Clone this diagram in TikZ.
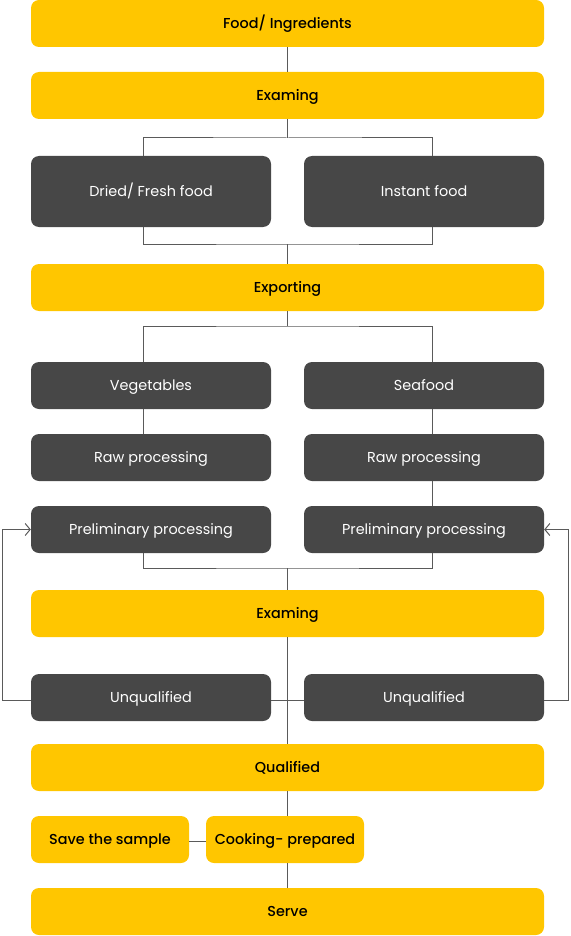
\documentclass[tikz,border=0pt]{standalone}
\usepackage{fontspec}
\setmainfont{Poppins}[BoldFont={Poppins Medium}]
\usetikzlibrary{positioning,arrows.meta,calc}
\definecolor{yel}{HTML}{FFC600}
\definecolor{dk}{HTML}{474747}
\definecolor{ln}{HTML}{5A5A5A}
\tikzset{
  ybox/.style={rectangle,rounded corners=8pt,fill=yel,text=black,font=\fontsize{14.4}{16}\selectfont\bfseries,
    minimum width=513pt,minimum height=47pt,inner sep=0pt,text height=2.4ex,text depth=.4ex},
  dbox/.style={rectangle,rounded corners=8pt,fill=dk,text=white,font=\fontsize{14.4}{16}\selectfont,
    minimum width=240pt,minimum height=47pt,inner sep=0pt,text height=2.4ex,text depth=.4ex},
  sbox/.style={ybox,minimum width=158pt},
  conn/.style={draw=ln,line width=1pt},
  back/.style={conn,-{Straight Barb[length=5pt,width=12pt,line width=1pt]}},
}
\begin{document}
\begin{tikzpicture}[x=1pt,y=-1pt]
  \useasboundingbox (0,0) rectangle (570,936);
  % main column
  \node[ybox] (food) at (287.5,23.5) {Food/ Ingredients};
  \node[ybox] (ex1) at (287.5,95.5) {Examing};
  \node[dbox,minimum height=71pt] (dried) at (151,191.5) {Dried/ Fresh food};
  \node[dbox,minimum height=71pt] (inst) at (424,191.5) {Instant food};
  \node[ybox] (expo) at (287.5,287.5) {Exporting};
  % two branches
  \foreach \n/\x/\t in {veg/151/Vegetables,sea/424/Seafood}{
    \node[dbox] (\n) at (\x,385.5) {\t};
  }
  \node[dbox] (rawl) at (151,457.5) {Raw processing};
  \node[dbox] (rawr) at (424,457.5) {Raw processing};
  \node[dbox] (prel) at (151,529.5) {Preliminary processing};
  \node[dbox] (prer) at (424,529.5) {Preliminary processing};
  \node[ybox] (ex2) at (287.5,613.5) {Examing};
  \node[dbox] (unl) at (151,697.5) {Unqualified};
  \node[dbox] (unr) at (424,697.5) {Unqualified};
  \node[ybox] (qual) at (287.5,767.5) {Qualified};
  \node[sbox] (save) at (110,839.5) {Save the sample};
  \node[sbox] (cook) at (285,839.5) {Cooking- prepared};
  \node[ybox] (serve) at (287.5,911.5) {Serve};
  % junction points
  \coordinate (j1) at (287.3,138);
  \coordinate (j2) at (287.3,244);
  \coordinate (j3) at (287.3,326);
  \coordinate (j4) at (287.3,568);
  \coordinate (bl) at (2,0);
  \coordinate (br) at (568,0);
  % connectors
  \draw[conn] (food.south -| j1) -- (ex1.north -| j1);
  \draw[conn] (ex1.south -| j1) -- (j1);
  \draw[conn] (dried.north -| 143,0) |- (j1) -| (inst.north -| 432,0);
  \draw[conn] (dried.south -| 143,0) |- (j2) -| (inst.south -| 432,0);
  \draw[conn] (j2) -- (expo.north -| j2);
  \draw[conn] (expo.south -| j3) -- (j3);
  \draw[conn] (veg.north -| 143,0) |- (j3) -| (sea.north -| 432,0);
  \draw[conn] (veg.south -| 143,0) -- (rawl.north -| 143,0);
  \draw[conn] (sea.south -| 432,0) -- (rawr.north -| 432,0);
  \draw[conn] (rawr.south -| 432,0) -- (prer.north -| 432,0);
  \draw[conn] (prel.south -| 143,0) |- (j4) -| (prer.south -| 432,0);
  \draw[conn] (j4) -- (ex2.north -| j4);
  \draw[conn] (ex2.south -| j4) -- (qual.north -| j4);
  \draw[conn] (unl.east |- 0,700) -- (unr.west |- 0,700);
  \draw[back] (unl.west |- 0,700) -| (bl |- prel) -- (prel.west);
  \draw[back] (unr.east |- 0,700) -| (br |- prer) -- (prer.east);
  \draw[conn] (qual.south -| j4) -- (cook.north -| j4);
  \draw[conn] (save.east |- 0,841) -- (cook.west |- 0,841);
  \draw[conn] (cook.south -| j4) -- (serve.north -| j4);
\end{tikzpicture}
\end{document}
